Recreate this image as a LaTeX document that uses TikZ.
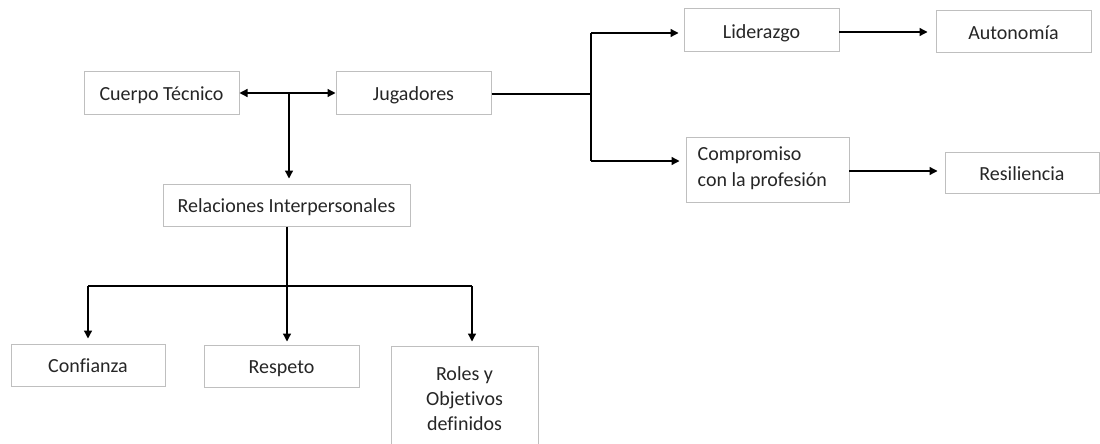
\documentclass[tikz,border=0pt]{standalone}
\usepackage{fontspec}
\setmainfont{Carlito}[Ligatures=NoCommon]
\usetikzlibrary{arrows.meta}
\definecolor{boxline}{HTML}{BFBFBF}
\definecolor{ink}{HTML}{262626}
\tikzset{
  box/.style={draw=boxline, line width=1pt, fill=white, text=ink, inner sep=0pt,
    align=center, font=\fontsize{20}{25}\selectfont},
  oneline/.style={box, text height=15.6pt, text depth=0pt},
  plain/.style={text=ink, inner sep=0pt, align=left, font=\fontsize{20}{26}\selectfont},
  link/.style={draw=black, line width=1.3pt},
  arr/.style={link, -{Triangle[length=8pt,width=8pt]}},
  twoarr/.style={link, {Triangle[length=8pt,width=8pt]}-{Triangle[length=8pt,width=8pt]}}
}
\begin{document}
\begin{tikzpicture}[x=1pt,y=-1pt]
\clip (0,0) rectangle (1100,444);
\fill[white] (0,0) rectangle (1100,444);

% boxes
\node[oneline, minimum width=155pt, minimum height=42pt] (ct)   at (161.5,93)   {Cuerpo Técnico};
\node[oneline, minimum width=155pt, minimum height=42pt] (jug)  at (413.5,93)   {Jugadores};
\node[oneline, minimum width=247pt, minimum height=42pt] (rel)  at (286.5,205)  {Relaciones Interpersonales};
\node[oneline, minimum width=155pt, minimum height=43pt] (lid)  at (761.5,30.5) {Liderazgo};
\node[oneline, minimum width=155pt, minimum height=42pt] (aut)  at (1013.5,32)  {Autonomía};
\node[box, minimum width=163pt, minimum height=65pt] (com) at (767.5,169.5) {};
\node[plain, anchor=west] (comtxt) at ([xshift=12pt,yshift=1pt]com.west) {Compromiso\\con la profesión};
\node[oneline, minimum width=154pt, minimum height=41pt] (res)  at (1022,172.5) {Resiliencia};
\node[oneline, minimum width=154pt, minimum height=42pt] (con)  at (88,365)     {Confianza};
\node[oneline, minimum width=155pt, minimum height=42pt] (resp) at (281.5,366)  {Respeto};
\node[box, minimum width=147pt, minimum height=106pt] (rol) at (464.5,399)  {Roles y\\Objetivos\\definidos};

% staff <-> players, and down to interpersonal relations
\draw[twoarr] (ct.east) -- (jug.west);
\coordinate (mid) at (289,93);
\draw[arr, shorten >=5pt] (mid) -- (mid |- rel.north);

% interpersonal relations branch
\coordinate (rb) at (287,286);
\coordinate (rl) at (88,286);
\coordinate (rr) at (472,286);
\draw[link] (rel.south -| rb) -- (rb);
\draw[link] (rl) -- (rr);
\draw[arr, shorten >=5pt] (rl) -- (rl |- con.north);
\draw[arr, shorten >=3pt] (rb) -- (rb |- resp.north);
\draw[arr, shorten >=4pt] (rr) -- (rr |- rol.north);

% players branch
\coordinate (jr) at (591,94);
\coordinate (ju) at (591,33);
\coordinate (jd) at (591,161);
\draw[link] (jug.east |- jr) -- (jr);
\draw[link] (ju) -- (jd);
\draw[arr, shorten >=5pt] (ju) -- (ju -| lid.west);
\draw[arr, shorten >=6pt] (jd) -- (jd -| com.west);

% second level
\coordinate (la) at (839,32);
\draw[arr, shorten >=8pt] (la) -- (la -| aut.west);
\coordinate (cr) at (849,171);
\draw[arr, shorten >=7pt] (cr) -- (cr -| res.west);
\end{tikzpicture}
\end{document}
